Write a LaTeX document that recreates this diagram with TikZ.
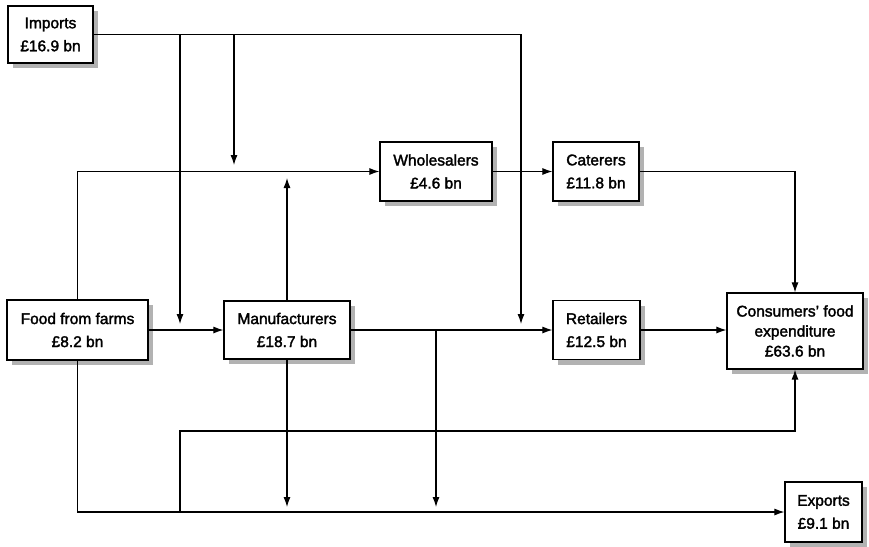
\documentclass[tikz,border=0pt]{standalone}
\usepackage{fontspec}
\setmainfont{Liberation Sans}
\newfontfamily\labelfamily{Liberation Sans}[FakeBold=2]
\usetikzlibrary{arrows.meta,shadows}
\newcommand{\boxfont}{\labelfamily\fontsize{15.5}{23}\selectfont}
\tikzset{
  box/.style={draw, line width=1.2pt, fill=white, align=center, inner sep=0pt,
    font=\boxfont,
    drop shadow={shadow xshift=5pt, shadow yshift=-5pt, fill=gray!60, opacity=1}},
  arr/.style={line width=1.1pt, -{Latex[length=10pt,width=7pt]}}
}
\begin{document}
\begin{tikzpicture}[x=1pt,y=-1pt]
\useasboundingbox (0,0) rectangle (869,546);

% boxes
\node[box, minimum width=85pt,  minimum height=57pt] (imp)   at (50.5,34.5) {Imports\\£16.9 bn};
\node[box, minimum width=141pt, minimum height=60pt] (farms) at (77.5,330)  {Food from farms\\£8.2 bn};
\node[box, minimum width=126pt, minimum height=58pt] (manu)  at (287,330)   {Manufacturers\\£18.7 bn};
\node[box, minimum width=112pt, minimum height=59pt] (whole) at (436,171.5) {Wholesalers\\£4.6 bn};
\node[box, minimum width=86pt,  minimum height=59pt] (cat)   at (596,171.5) {Caterers\\£11.8 bn};
\node[box, minimum width=87pt,  minimum height=59pt] (ret)   at (596.5,330) {Retailers\\£12.5 bn};
\node[box, minimum width=136pt, minimum height=76pt, font=\labelfamily\fontsize{15.5}{20}\selectfont] (cons) at (795,331)
  {Consumers’ food\\expenditure\\£63.6 bn};
\node[box, minimum width=77pt,  minimum height=60pt] (exp)   at (823.5,512) {Exports\\£9.1 bn};

% junctions and arrow ends
\coordinate (jA) at (180,34.5);
\coordinate (jB) at (234,34.5);
\coordinate (tA) at (180,324);
\coordinate (tB) at (234,165);
\coordinate (tR) at (521,324);
\coordinate (tM) at (287,178);
\coordinate (jD) at (180,512);
\coordinate (jE) at (180,431);
\coordinate (tMd) at (287,507);
\coordinate (jF) at (436,330);
\coordinate (tF) at (436,507);

% flows from imports
\draw[arr] (imp.east) -| (tR);
\draw[arr] (jA) -- (tA);
\draw[arr] (jB) -- (tB);

% flows from farms
\draw[arr] (farms.north) |- (whole.west);
\draw[arr] (farms.east) -- (manu.west);
\draw[arr] (farms.south) |- (exp.west);
\draw[arr] (jD) -- (jE) -| (cons.south);

% flows from manufacturers
\draw[arr] (manu.north) -- (tM);
\draw[arr] (manu.east) -- (ret.west);
\draw[arr] (manu.south) -- (tMd);
\draw[arr] (jF) -- (tF);

% distribution to consumers
\draw[arr] (whole.east) -- (cat.west);
\draw[arr] (cat.east) -| (cons.north);
\draw[arr] (ret.east) -- (cons.west |- ret.east);
\end{tikzpicture}
\end{document}
